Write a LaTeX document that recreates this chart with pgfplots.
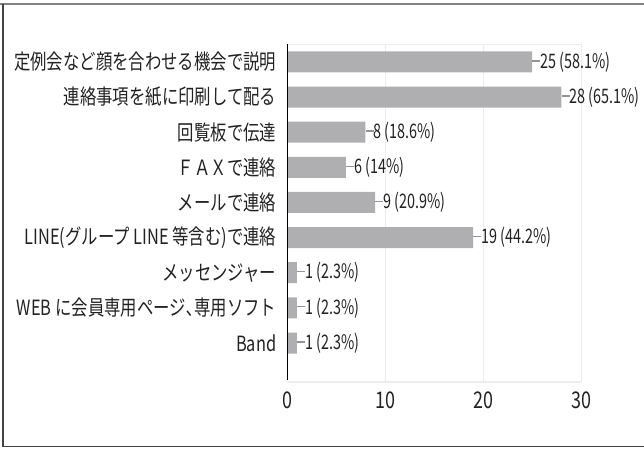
\documentclass[border=0pt]{standalone}
\usepackage{pgfplots}
\pgfplotsset{compat=1.18}
\usepackage{fontspec}
\setmainfont{Noto Sans CJK JP}[FakeStretch=0.78]
\newfontfamily\valfont{Noto Sans CJK JP}[FakeStretch=0.72]
\definecolor{barc}{RGB}{175,175,178}
\definecolor{txt}{RGB}{34,34,34}
\definecolor{gridc}{RGB}{236,236,236}
\newcommand{\ld}{{\color{barc!85!black}\rule[0.33em]{8pt}{1.4pt}}}
\begin{document}
\begin{tikzpicture}[x=1pt,y=1pt]
\useasboundingbox (0,0) rectangle (644,448);
\draw[color={rgb,255:red,130;green,130;blue,130}, line width=1.6pt] (0,444) -- (644,444);
\draw[color=txt!85, line width=1.2pt] (3,444) -- (3,1.2) -- (644,1.2);
\begin{axis}[at={(287pt,66pt)}, anchor=south west, scale only axis,
  width=294pt, height=338pt,
  xbar, bar width=21pt,
  xmin=0, xmax=30, ymin=-1.11, ymax=8.51,
  xtick={0,10,20,30}, ytick={0,1,2,3,4,5,6,7,8},
  yticklabels={Band, WEB に会員専用ページ､専用ソフト, メッセンジャー, LINE(グループ LINE 等含む)で連絡, メールで連絡, ＦＡＸで連絡, 回覧板で伝達, 連絡事項を紙に印刷して配る, 定例会など顔を合わせる機会で説明},
  /pgf/number format/assume math mode=true,
  axis line style={draw=none},
  tick style={draw=none},
  xmajorgrids, major grid style={color=gridc, line width=1pt},
  yticklabel style={font=\fontsize{21}{21}\selectfont, text=txt, xshift=-3pt},
  xticklabel style={font=\fontsize{23}{23}\selectfont, text=txt, yshift=-6pt},
  nodes near coords, point meta=explicit symbolic,
  every node near coord/.style={anchor=west, inner sep=0pt, xshift=0pt, font=\valfont\fontsize{20}{20}\selectfont, text=txt},
]
\draw[gridc, line width=1pt] (rel axis cs:0,1) -- (rel axis cs:1,1);
\draw[gridc, line width=2.5pt] (rel axis cs:0,0) -- (rel axis cs:1,0);
\addplot[fill=barc, draw=none] coordinates {
  (25,8) [{\ld 25 (58.1\%)}]
  (28,7) [{\ld 28 (65.1\%)}]
  (8,6) [{\ld 8 (18.6\%)}]
  (6,5) [{\ld 6 (14\%)}]
  (9,4) [{\ld 9 (20.9\%)}]
  (19,3) [{\ld 19 (44.2\%)}]
  (1,2) [{\ld 1 (2.3\%)}]
  (1,1) [{\ld 1 (2.3\%)}]
  (1,0) [{\ld 1 (2.3\%)}]
};
\draw[black, line width=1.3pt] (rel axis cs:0,1) -- (rel axis cs:0,0.005);
\end{axis}
\end{tikzpicture}
\end{document}
